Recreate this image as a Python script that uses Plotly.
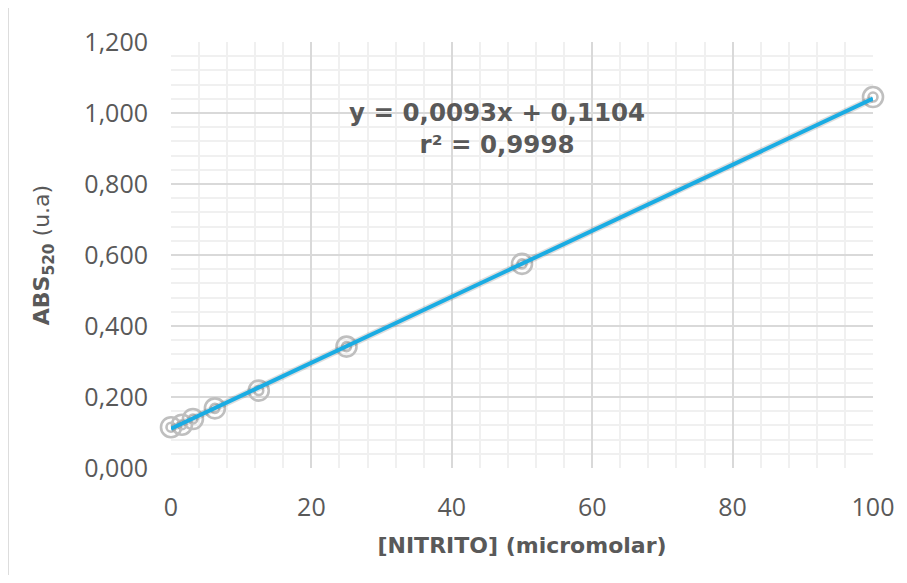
import plotly.graph_objects as go

# Data
nitrito_um = [0, 1.5625, 3.125, 6.25, 12.5, 25, 50, 100]
abs520 = [0.115, 0.122, 0.138, 0.168, 0.218, 0.342, 0.575, 1.045]
slope = 0.0093
intercept = 0.1104
trend_x = [0, 100]
trend_y = [slope * x + intercept for x in trend_x]

x_ticks = [0, 20, 40, 60, 80, 100]
y_ticks = [0, 0.2, 0.4, 0.6, 0.8, 1.0, 1.2]

FONT = "Open Sans"
BOLD_FONT = "DejaVu Sans"
GREY_TXT = "#595959"

fig = go.Figure()

# outer rings
fig.add_trace(go.Scatter(
    x=nitrito_um, y=abs520, mode="markers", cliponaxis=False,
    marker=dict(symbol="circle-open", size=20, color="#BFBFBF",
                line=dict(width=2.6, color="#BFBFBF")),
    hoverinfo="skip", showlegend=False))
# inner rings
fig.add_trace(go.Scatter(
    x=nitrito_um, y=abs520, mode="markers", cliponaxis=False,
    marker=dict(symbol="circle-open", size=9, color="#BFBFBF",
                line=dict(width=2.6, color="#BFBFBF")),
    hoverinfo="skip", showlegend=False))
# trendline shadow
fig.add_trace(go.Scatter(
    x=trend_x, y=trend_y, mode="lines", cliponaxis=False,
    line=dict(color="rgba(0,0,0,0.13)", width=7),
    hoverinfo="skip", showlegend=False))
# trendline
fig.add_trace(go.Scatter(
    x=trend_x, y=trend_y, mode="lines", cliponaxis=False,
    line=dict(color="#1AACE3", width=4),
    showlegend=False))

fig.update_layout(
    width=898, height=567, autosize=False,
    margin=dict(l=163, r=26, t=34, b=107),
    paper_bgcolor="white", plot_bgcolor="white",
    separators=",.",
    font=dict(family=FONT, color=GREY_TXT, size=25),
    xaxis=dict(
        range=[0, 100], tickvals=x_ticks, showline=False, zeroline=False,
        showgrid=True, gridcolor="#D9D9D9", gridwidth=1.5,
        minor=dict(dtick=4, showgrid=True, gridcolor="#F0F0F0", gridwidth=1.5),
        ticks="outside", ticklen=17, tickcolor="rgba(0,0,0,0)",
        tickfont=dict(size=25, color=GREY_TXT),
        title=dict(text="<b>[NITRITO] (micromolar)</b>",
                   font=dict(family=BOLD_FONT, size=22, color=GREY_TXT), standoff=15),
    ),
    yaxis=dict(
        range=[0, 1.2], tickvals=y_ticks, tickformat=".3f",
        showline=False, zeroline=False,
        showgrid=True, gridcolor="#D9D9D9", gridwidth=1.5,
        minor=dict(dtick=0.04, showgrid=True, gridcolor="#F0F0F0", gridwidth=1.5),
        ticks="outside", ticklen=17, tickcolor="rgba(0,0,0,0)",
        tickfont=dict(size=25, color=GREY_TXT),
        title=dict(text="<b>ABS<sub>520</sub></b> (u.a)",
                   font=dict(family=BOLD_FONT, size=22, color=GREY_TXT), standoff=28),
    ),
    annotations=[dict(
        x=46.4, y=0.955, xref="x", yref="y",
        text="<b>y = 0,0093x + 0,1104</b><br><b>r² = 0,9998</b>",
        showarrow=False, align="center",
        font=dict(family=BOLD_FONT, size=24.5, color=GREY_TXT),
        xanchor="center", yanchor="middle")],
    shapes=[dict(type="line", xref="paper", yref="paper",
                 x0=-0.232, x1=-0.232, y0=-0.3, y1=1.2,
                 line=dict(color="#D9D9D9", width=1.5), layer="below")],
)

fig.write_html("out.html")
